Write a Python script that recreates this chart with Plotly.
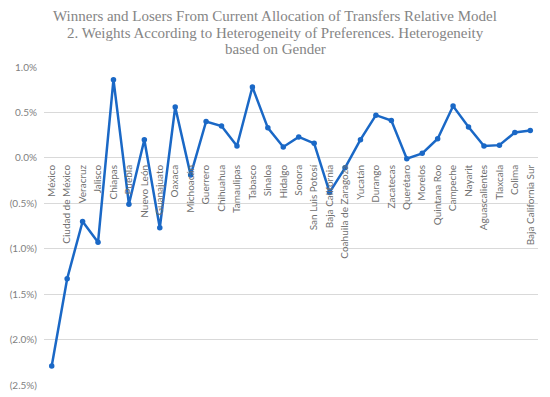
import plotly.graph_objects as go

states = ["México", "Ciudad de México", "Veracruz", "Jalisco", "Chiapas", "Puebla",
          "Nuevo León", "Guanajuato", "Oaxaca", "Michoacán", "Guerrero", "Chihuahua",
          "Tamaulipas", "Tabasco", "Sinaloa", "Hidalgo", "Sonora", "San Luis Potosí",
          "Baja California", "Coahuila de Zaragoza", "Yucatán", "Durango", "Zacatecas",
          "Querétaro", "Morelos", "Quintana Roo", "Campeche", "Nayarit", "Aguascalientes",
          "Tlaxcala", "Colima", "Baja California Sur"]
values = [-2.29, -1.33, -0.70, -0.93, 0.86, -0.51, 0.20, -0.77, 0.56, -0.19, 0.40, 0.35,
          0.13, 0.78, 0.33, 0.12, 0.23, 0.16, -0.38, -0.11, 0.20, 0.47, 0.41, -0.01, 0.05,
          0.21, 0.57, 0.34, 0.13, 0.14, 0.28, 0.30]
y_tickvals = [1.0, 0.5, 0.0, -0.5, -1.0, -1.5, -2.0, -2.5]
y_ticktext = ["1.0%", "0.5%", "0.0%", "(0.5%)", "(1.0%)", "(1.5%)", "(2.0%)", "(2.5%)"]

title_lines = ["Winners and Losers From Current Allocation of Transfers Relative Model",
               "2. Weights According to Heterogeneity of Preferences. Heterogeneity",
               "based on Gender"]

W, H = 550, 397
ML, MR, MT, MB = 44, 12, 67, 12
PW, PH = W - ML - MR, H - MT - MB

fig = go.Figure(go.Scatter(
    x=states, y=values, mode="lines+markers",
    line=dict(color="#1a68c6", width=2.5),
    marker=dict(color="#1a68c6", size=5.5),
))

title_y_px = [16, 32.5, 49]
for line, ypx in zip(title_lines, title_y_px):
    fig.add_annotation(text=line, xref="paper", yref="paper",
                       x=(W / 2 - ML) / PW, y=(H - MB - ypx) / PH,
                       xanchor="center", yanchor="middle", showarrow=False,
                       font=dict(family="Liberation Serif", size=15, color="#858585"))

ymin, ymax = -2.5, 1.0
fig.update_layout(
    width=W, height=H,
    margin=dict(l=ML, r=MR, t=MT, b=MB, autoexpand=False),
    paper_bgcolor="white", plot_bgcolor="white",
    showlegend=False,
    font=dict(family="Lato", size=10, color="#7f7f7f"),
    xaxis=dict(anchor="free", position=(0 - ymin) / (ymax - ymin), automargin=False,
               tickangle=-90, showgrid=False, showline=False, ticks="",
               ticklabelstandoff=4,
               tickfont=dict(family="Lato", size=10, color="#6f6f6f"),
               range=[-0.5, len(states) - 0.5]),
    yaxis=dict(range=[ymin, ymax], tickvals=y_tickvals, ticktext=y_ticktext, automargin=False,
               showgrid=True, gridcolor="#d9d9d9", gridwidth=1, zeroline=False,
               showline=False, ticks="", ticklabelstandoff=6,
               tickfont=dict(family="Lato", size=10, color="#7f7f7f")),
)

fig.write_html("out.html", config={"displayModeBar": False},
               post_script="document.body.style.margin='0';")
